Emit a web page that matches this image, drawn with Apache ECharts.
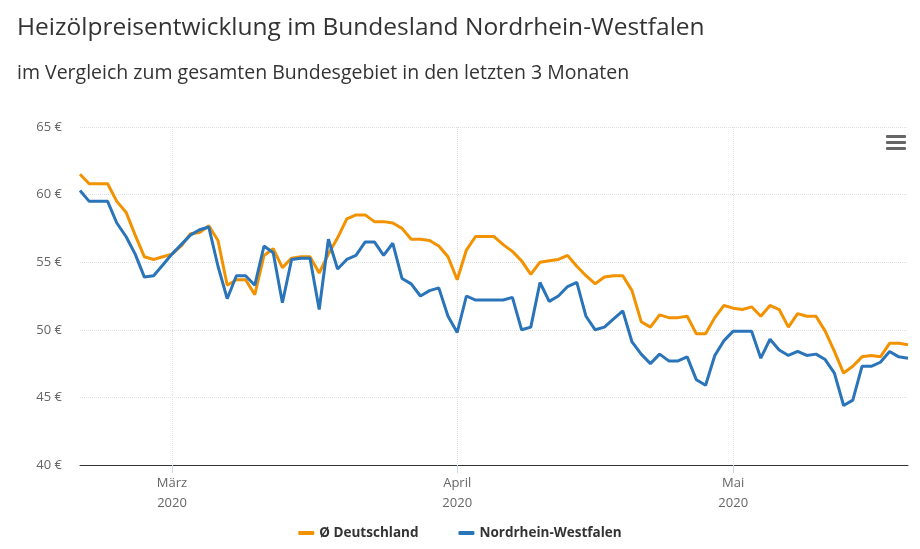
<!DOCTYPE html>
<html>
<head>
<meta charset="utf-8">
<script src="https://cdn.jsdelivr.net/npm/echarts@6/dist/echarts.min.js"></script>
<style>html,body{margin:0;padding:0;background:#fff}#chart{width:920px;height:549px}</style>
</head>
<body>
<div id="chart"></div>
<script>
// Tage ab 20.02.2020
var startDate = new Date(2020, 1, 20);
var monthNames = ['Jan', 'Feb', 'März', 'April', 'Mai', 'Juni'];

var deutschland = [
  61.5, 60.8, 60.8, 60.8, 59.5, 58.7, 57.0, 55.4, 55.2, 55.4,
  55.6, 56.2, 57.1, 57.2, 57.7, 56.6, 53.3, 53.7, 53.7, 52.6,
  55.5, 56.0, 54.6, 55.3, 55.4, 55.4, 54.2, 55.6, 56.8, 58.2,
  58.5, 58.5, 58.0, 58.0, 57.9, 57.5, 56.7, 56.7, 56.6, 56.2,
  55.4, 53.7, 55.9, 56.9, 56.9, 56.9, 56.3, 55.8, 55.1, 54.1,
  55.0, 55.1, 55.2, 55.5, 54.7, 54.0, 53.4, 53.9, 54.0, 54.0,
  52.9, 50.6, 50.2, 51.1, 50.9, 50.9, 51.0, 49.7, 49.7, 50.9,
  51.8, 51.6, 51.5, 51.7, 51.0, 51.8, 51.5, 50.2, 51.2, 51.0,
  51.0, 49.9, 48.4, 46.8, 47.3, 48.0, 48.1, 48.0, 49.0, 49.0,
  48.9
];
var nrw = [
  60.3, 59.5, 59.5, 59.5, 57.9, 56.9, 55.6, 53.9, 54.0, 54.8,
  55.6, 56.3, 57.0, 57.4, 57.6, 54.7, 52.3, 54.0, 54.0, 53.3,
  56.2, 55.7, 52.0, 55.2, 55.3, 55.3, 51.5, 56.7, 54.5, 55.2,
  55.5, 56.5, 56.5, 55.5, 56.4, 53.8, 53.4, 52.5, 52.9, 53.1,
  51.0, 49.8, 52.5, 52.2, 52.2, 52.2, 52.2, 52.4, 50.0, 50.2,
  53.5, 52.1, 52.5, 53.2, 53.5, 51.0, 50.0, 50.2, 50.8, 51.4,
  49.1, 48.2, 47.5, 48.2, 47.7, 47.7, 48.0, 46.3, 45.9, 48.1,
  49.2, 49.9, 49.9, 49.9, 47.9, 49.3, 48.5, 48.1, 48.4, 48.1,
  48.2, 47.8, 46.8, 44.4, 44.8, 47.3, 47.3, 47.6, 48.4, 48.0,
  47.9
];

var dates = [];
for (var i = 0; i < deutschland.length; i++) {
  var d = new Date(startDate.getTime());
  d.setDate(d.getDate() + i);
  dates.push(d.getFullYear() + '-' + (d.getMonth() + 1) + '-' + d.getDate());
}
function isMonthStart(idx) { return dates[idx].split('-')[2] === '1'; }

var chart = echarts.init(document.getElementById('chart'));
chart.setOption({
  animation: false,
  textStyle: { fontFamily: 'Open Sans, sans-serif' },
  title: {
    text: 'Heizölpreisentwicklung im Bundesland Nordrhein-Westfalen',
    subtext: 'im Vergleich zum gesamten Bundesgebiet in den letzten 3 Monaten',
    left: 12, top: 11, itemGap: 22,
    textStyle: { fontSize: 24.5, fontWeight: 'normal', color: '#333' },
    subtextStyle: { fontSize: 19.5, color: '#333' }
  },
  legend: {
    bottom: 4, left: 'center', itemGap: 40,
    icon: 'roundRect', itemWidth: 16, itemHeight: 4,
    textStyle: { fontSize: 13.5, fontWeight: 'bold', color: '#333' },
    data: ['Ø Deutschland', 'Nordrhein-Westfalen']
  },
  graphic: [
    { type: 'rect', right: 14, top: 135, shape: { width: 20, height: 3, r: 1 }, style: { fill: '#666' } },
    { type: 'rect', right: 14, top: 141, shape: { width: 20, height: 3, r: 1 }, style: { fill: '#666' } },
    { type: 'rect', right: 14, top: 147, shape: { width: 20, height: 3, r: 1 }, style: { fill: '#666' } }
  ],
  grid: { left: 80, right: 12, top: 127, bottom: 84 },
  xAxis: {
    type: 'category', data: dates, boundaryGap: false,
    axisLine: { lineStyle: { color: '#333', width: 1 } },
    axisTick: { interval: function (idx) { return isMonthStart(idx); }, length: 8, lineStyle: { color: '#ccd6eb' } },
    axisLabel: {
      interval: function (idx) { return isMonthStart(idx); },
      color: '#666', fontSize: 13, lineHeight: 20, margin: 8,
      formatter: function (v) { var p = v.split('-'); return monthNames[+p[1] - 1] + '\n' + p[0]; }
    },
    splitLine: { show: true, interval: function (idx) { return isMonthStart(idx); }, lineStyle: { color: '#e0e0e0', type: 'dotted' } }
  },
  yAxis: {
    type: 'value', min: 40, max: 65, interval: 5,
    axisLabel: { formatter: '{value} €', color: '#666', fontSize: 13, margin: 18 },
    splitLine: { lineStyle: { color: '#e0e0e0', type: 'dotted' } }
  },
  series: [
    { name: 'Ø Deutschland', type: 'line', data: deutschland, showSymbol: false, lineStyle: { width: 3, color: '#f39200' }, itemStyle: { color: '#f39200' } },
    { name: 'Nordrhein-Westfalen', type: 'line', data: nrw, showSymbol: false, lineStyle: { width: 3, color: '#2a74b9' }, itemStyle: { color: '#2a74b9' } }
  ]
});
</script>
</body>
</html>
